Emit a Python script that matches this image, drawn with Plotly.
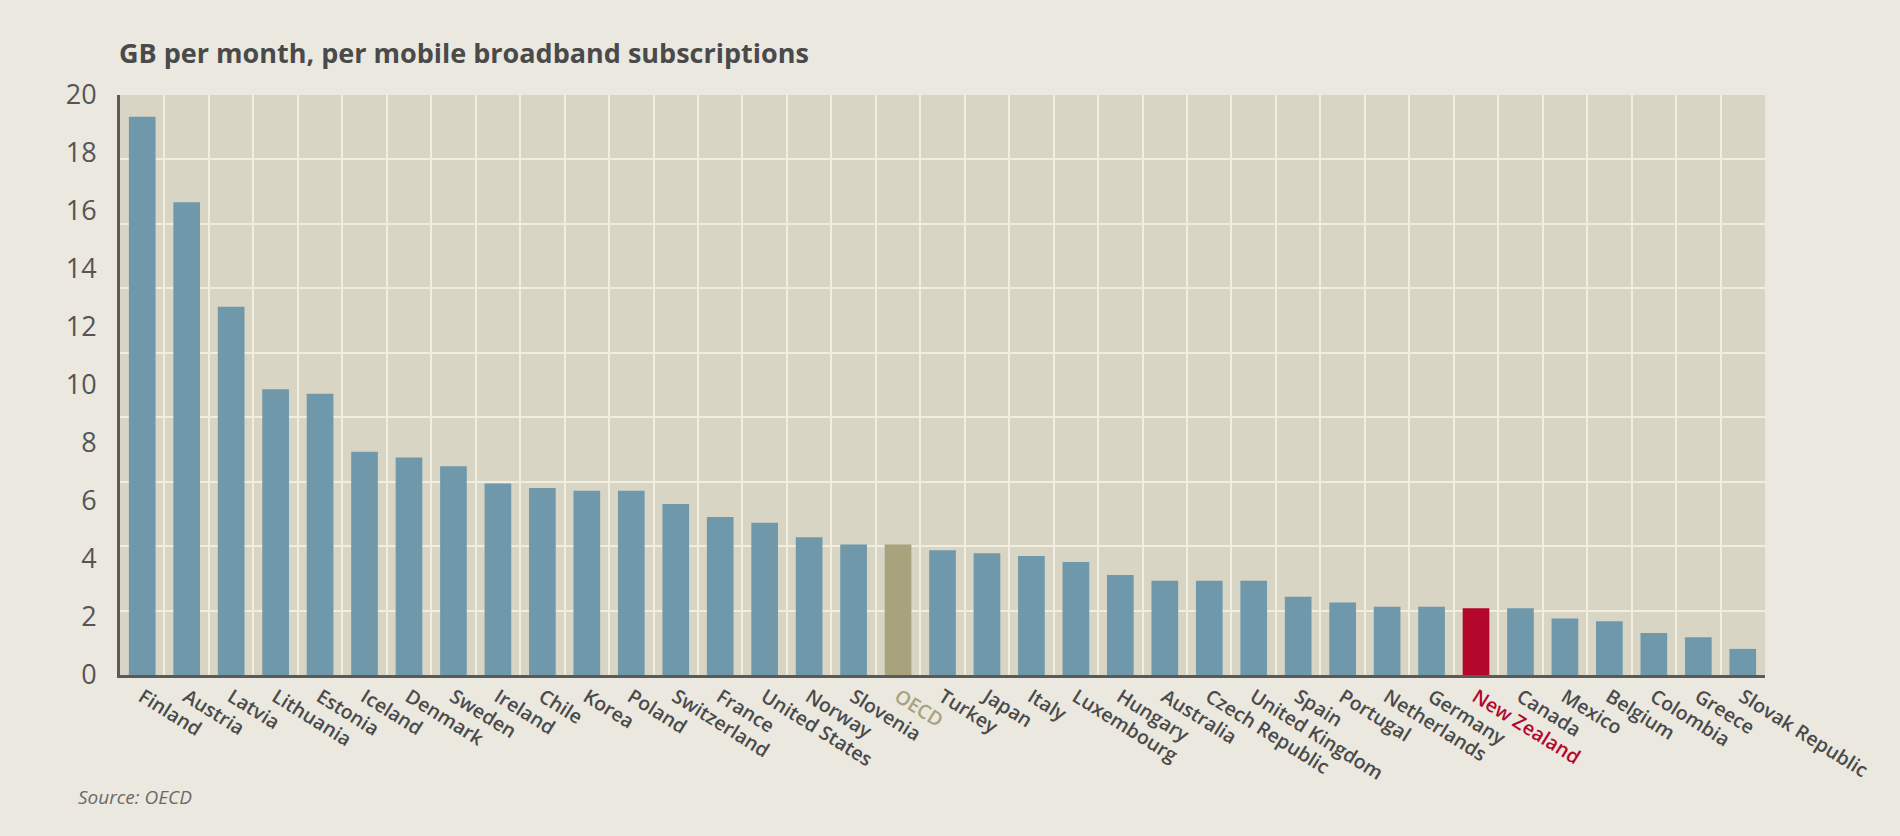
import plotly.graph_objects as go

categories = ["Finland", "Austria", "Latvia", "Lithuania", "Estonia", "Iceland", "Denmark",
              "Sweden", "Ireland", "Chile", "Korea", "Poland", "Switzerland", "France",
              "United States", "Norway", "Slovenia", "OECD", "Turkey", "Japan", "Italy",
              "Luxembourg", "Hungary", "Australia", "Czech Republic", "United Kingdom",
              "Spain", "Portugal", "Netherlands", "Germany", "New Zealand", "Canada",
              "Mexico", "Belgium", "Colombia", "Greece", "Slovak Republic"]
values = [19.25, 16.3, 12.7, 9.85, 9.7, 7.7, 7.5, 7.2, 6.6, 6.45, 6.35, 6.35, 5.9, 5.45,
          5.25, 4.75, 4.5, 4.5, 4.3, 4.2, 4.1, 3.9, 3.45, 3.25, 3.25, 3.25, 2.7, 2.5,
          2.35, 2.35, 2.3, 2.3, 1.95, 1.85, 1.45, 1.3, 0.9]
y_ticks = [0, 2, 4, 6, 8, 10, 12, 14, 16, 18, 20]
highlight = {"OECD": "#a8a27d", "New Zealand": "#b3072b"}

BAR = "#6f98aa"
TEXT = "#4a4a4a"
bar_colors = [highlight.get(c, BAR) for c in categories]
tick_text = [f'<span style="color:{highlight[c]}">{c}</span>' if c in highlight else c
             for c in categories]

fig = go.Figure()
fig.add_trace(go.Bar(x=categories, y=values, marker=dict(color=bar_colors, line=dict(width=0)),
                     showlegend=False, hoverinfo="x+y"))
# invisible helper trace so the grid axis renders
fig.add_trace(go.Scatter(x=[categories[0]], y=[0], yaxis="y2", mode="markers",
                         marker=dict(opacity=0), showlegend=False, hoverinfo="skip"))

fig.update_layout(
    width=1900, height=836,
    margin=dict(l=120, r=135, t=95, b=161),
    paper_bgcolor="#ebe8e0",
    plot_bgcolor="#d8d5c5",
    bargap=0.4,
    font=dict(family="Open Sans", color=TEXT),
    xaxis=dict(
        type="category",
        tickmode="array", tickvals=categories, ticktext=tick_text,
        tickangle=32,
        tickfont=dict(family="Open Sans", size=19.5, color=TEXT, weight=600),
        showgrid=True, gridcolor="#f1eddf", gridwidth=2,
        tickson="boundaries", ticks="",
        showline=True, linecolor="#5a5a5a", linewidth=3,
        range=[-0.5, len(categories) - 0.5],
        fixedrange=True,
    ),
    yaxis=dict(
        range=[0, 20], tickvals=y_ticks,
        showgrid=False, zeroline=False,
        showline=True, linecolor="#5a5a5a", linewidth=3,
        ticks="", ticklabelstandoff=15,
        tickfont=dict(family="Open Sans", size=27, color="#555555"),
        fixedrange=True,
    ),
    yaxis2=dict(
        overlaying="y", range=[0, 9], dtick=1,
        showgrid=True, gridcolor="#f1eddf", gridwidth=2,
        showticklabels=False, zeroline=False, showline=False,
        fixedrange=True,
    ),
    annotations=[
        dict(text="GB per month, per mobile broadband subscriptions",
             xref="paper", yref="paper", x=-0.002, y=1.074,
             xanchor="left", yanchor="middle", showarrow=False,
             font=dict(family="Open Sans", size=27, color=TEXT, weight="bold")),
        dict(text="<i>Source: OECD</i>",
             xref="paper", yref="paper", x=-0.027, y=-0.21,
             xanchor="left", yanchor="middle", showarrow=False,
             font=dict(family="Open Sans", size=19, color="#6a6a6a")),
    ],
)

fig.write_html("out.html", config={"displayModeBar": False},
               post_script="document.body.style.margin='0';document.body.style.overflow='hidden';")
